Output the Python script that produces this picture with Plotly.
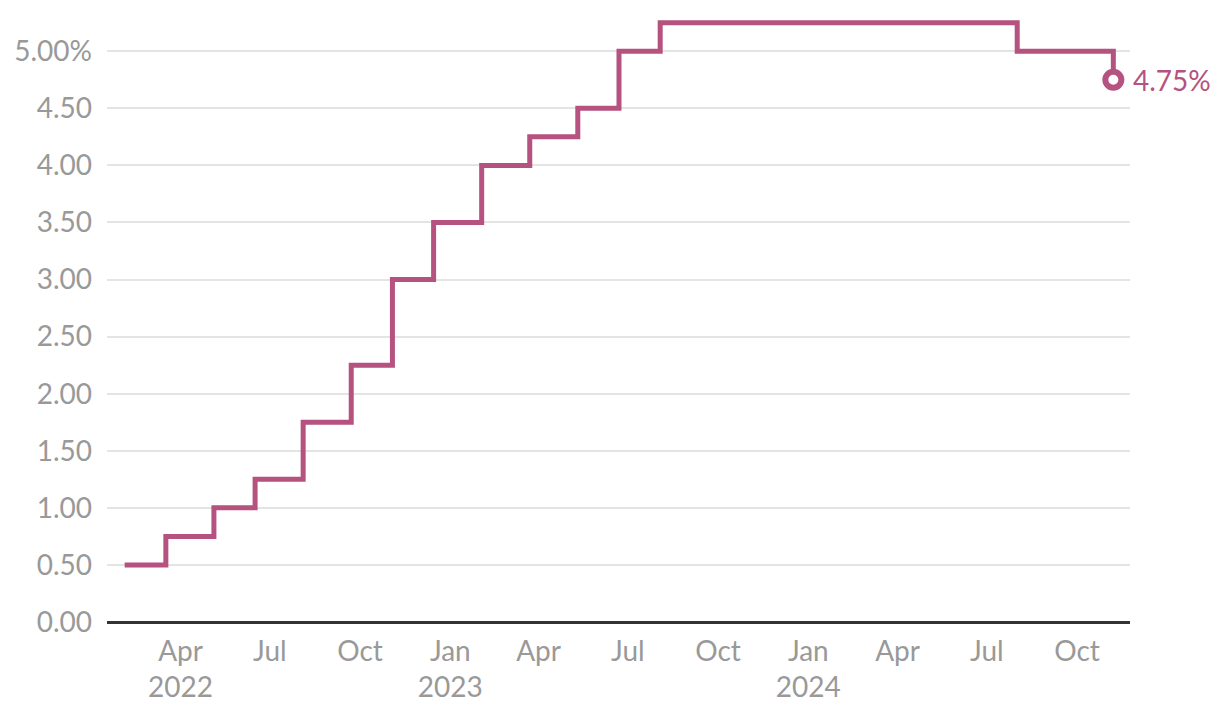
import plotly.graph_objects as go

dates = ["2022-02-03", "2022-03-17", "2022-05-05", "2022-06-16", "2022-08-04",
         "2022-09-22", "2022-11-03", "2022-12-15", "2023-02-02", "2023-03-23",
         "2023-05-11", "2023-06-22", "2023-08-03", "2024-08-01", "2024-11-07"]
rates = [0.5, 0.75, 1.0, 1.25, 1.75, 2.25, 3.0, 3.5, 4.0, 4.25, 4.5, 5.0, 5.25, 5.0, 4.75]

x_tickvals = ["2022-04-01", "2022-07-01", "2022-10-01", "2023-01-01", "2023-04-01",
              "2023-07-01", "2023-10-01", "2024-01-01", "2024-04-01", "2024-07-01", "2024-10-01"]
x_ticktext = ["Apr<br>2022", "Jul", "Oct", "Jan<br>2023", "Apr", "Jul", "Oct",
              "Jan<br>2024", "Apr", "Jul", "Oct"]
y_tickvals = [0, 0.5, 1, 1.5, 2, 2.5, 3, 3.5, 4, 4.5, 5]
y_ticktext = ["0.00", "0.50", "1.00", "1.50", "2.00", "2.50", "3.00", "3.50", "4.00", "4.50", "5.00%"]

color = "#b5527f"
font_family = "Lato, 'Noto Sans', sans-serif"
fsize = 28

fig = go.Figure()
fig.add_trace(go.Scatter(x=dates, y=rates, mode="lines", line=dict(color=color, width=5, shape="hv"),
                         hoverinfo="skip"))
fig.add_trace(go.Scatter(x=[dates[-1]], y=[rates[-1]], mode="markers",
                         marker=dict(size=16, color="white", line=dict(color=color, width=6)),
                         hoverinfo="skip"))
fig.add_annotation(x=dates[-1], y=rates[-1], text=f"{rates[-1]:.2f}%", showarrow=False,
                   xanchor="left", xshift=18, font=dict(color=color, size=fsize, family=font_family))

fig.update_layout(
    width=1220, height=716,
    margin=dict(l=107, r=90, t=17, b=94),
    plot_bgcolor="white", paper_bgcolor="white",
    showlegend=False,
    font=dict(family=font_family, size=fsize, color="#999999"),
    xaxis=dict(type="date", range=["2022-01-16", "2024-11-24"], tickvals=x_tickvals,
               ticktext=x_ticktext, showgrid=False, zeroline=False, showline=False,
               ticks="", ticklabelstandoff=10, tickfont=dict(size=fsize, color="#999999")),
    yaxis=dict(range=[0, 5.3], tickvals=y_tickvals, ticktext=y_ticktext, showgrid=True,
               gridcolor="#e4e4e4", gridwidth=2, zeroline=True, zerolinecolor="#333333",
               zerolinewidth=3, ticks="", ticklabelstandoff=14,
               tickfont=dict(size=fsize, color="#999999")),
)

fig.write_html("out.html")
